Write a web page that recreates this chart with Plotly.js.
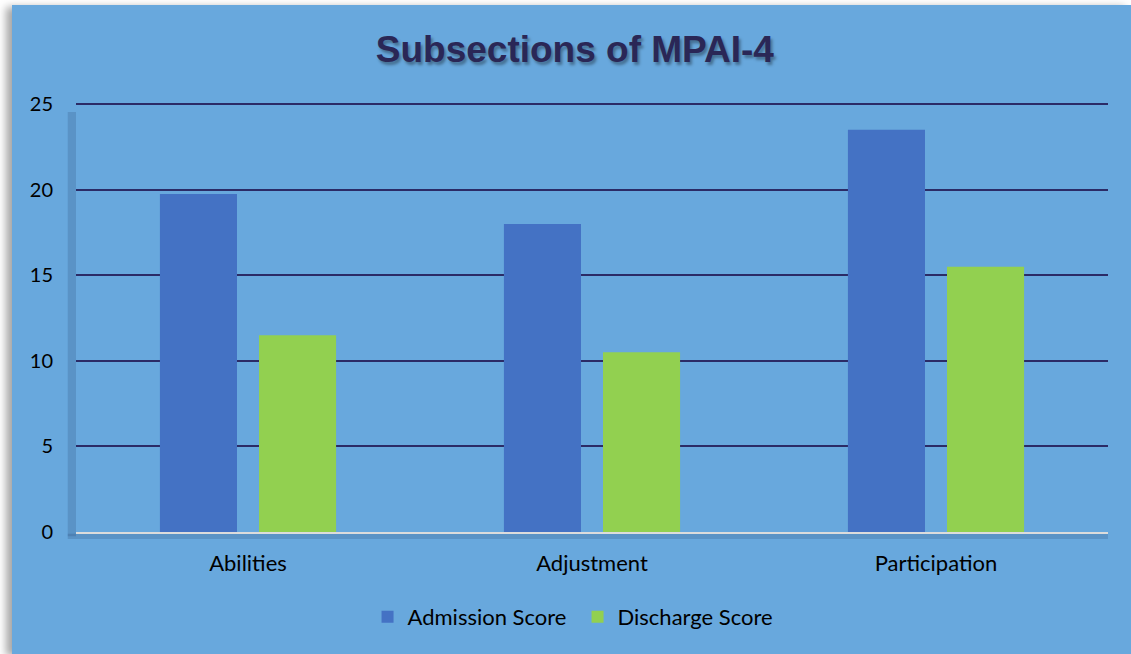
<!DOCTYPE html>
<html>
<head>
<meta charset="utf-8">
<script src="https://cdn.plot.ly/plotly-3.0.1.min.js"></script>
<style>
  html, body { margin: 0; padding: 0; background: #ffffff; width: 1131px; height: 654px; overflow: hidden; }
  #wrap { position: absolute; left: 12px; top: 5px; width: 1119px; height: 649px; box-shadow: -6px 2px 8px rgba(0,0,0,0.35); }
  #chart { width: 1119px; height: 649px; }
</style>
</head>
<body>
<div id="wrap"><div id="chart"></div></div>
<script>
const categories = ["Abilities", "Adjustment", "Participation"];
const admissionScores = [19.75, 18, 23.5];
const dischargeScores = [11.5, 10.5, 15.5];
const seriesNames = ["Admission Score", "Discharge Score"];
const yTicks = [0, 5, 10, 15, 20, 25];

const labelFont = { family: "Lato, 'Open Sans', sans-serif", size: 22, color: "#000000" };
const yFont = { family: "Lato, 'Open Sans', sans-serif", size: 20, color: "#000000" };

const traces = [
  { type: "bar", name: seriesNames[0], x: categories, y: admissionScores,
    marker: { color: "#4472c4", line: { width: 0 } }, hoverinfo: "x+y+name" },
  { type: "bar", name: seriesNames[1], x: categories, y: dischargeScores,
    marker: { color: "#92d050", line: { width: 0 } }, hoverinfo: "x+y+name" }
];

const layout = {
  width: 1119, height: 649,
  paper_bgcolor: "#68a8dd",
  plot_bgcolor: "#68a8dd",
  margin: { l: 64, r: 23, t: 94, b: 122 },
  title: {
    text: "<b>Subsections of MPAI-4</b>",
    font: { family: "Liberation Sans, Arial, sans-serif", size: 37, color: "#2a2756",
            shadow: "2px 3px 3px rgba(0,0,0,0.35)" },
    xref: "container", x: 0.503, xanchor: "center",
    yref: "container", y: 0.932, yanchor: "middle"
  },
  barmode: "group",
  bargap: 0.424,
  bargroupgap: 0.222,
  showlegend: true,
  legend: {
    orientation: "h",
    xref: "paper", x: 0.486, xanchor: "center",
    y: -0.196, yanchor: "middle",
    font: labelFont,
    bgcolor: "rgba(0,0,0,0)",
    itemwidth: 30,
    entrywidth: 165,
    entrywidthmode: "pixels",
    tracegroupgap: 0
  },
  xaxis: {
    type: "category",
    tickfont: labelFont,
    showgrid: false,
    showline: true, linecolor: "#dcdcdc", linewidth: 2,
    ticks: "", ticklabelstandoff: 11,
    zeroline: false, fixedrange: true
  },
  yaxis: {
    range: [0, 25.3],
    tickvals: yTicks,
    ticktext: yTicks.map(String),
    tickfont: yFont,
    showgrid: true, gridcolor: "#2b2b66", gridwidth: 2,
    zeroline: false, showline: false,
    ticks: "", ticklabelstandoff: 22,
    fixedrange: true
  },
  shapes: [
    { type: "rect", xref: "paper", yref: "paper", x0: -0.008, x1: 0, y0: -0.01, y1: 0.97,
      fillcolor: "rgba(20,40,80,0.16)", line: { width: 0 }, layer: "below" },
    { type: "rect", xref: "paper", yref: "paper", x0: -0.008, x1: 1.0, y0: -0.016, y1: -0.004,
      fillcolor: "rgba(20,40,80,0.16)", line: { width: 0 }, layer: "below" }
  ]
};

Plotly.newPlot("chart", traces, layout, { displayModeBar: false });
</script>
</body>
</html>
